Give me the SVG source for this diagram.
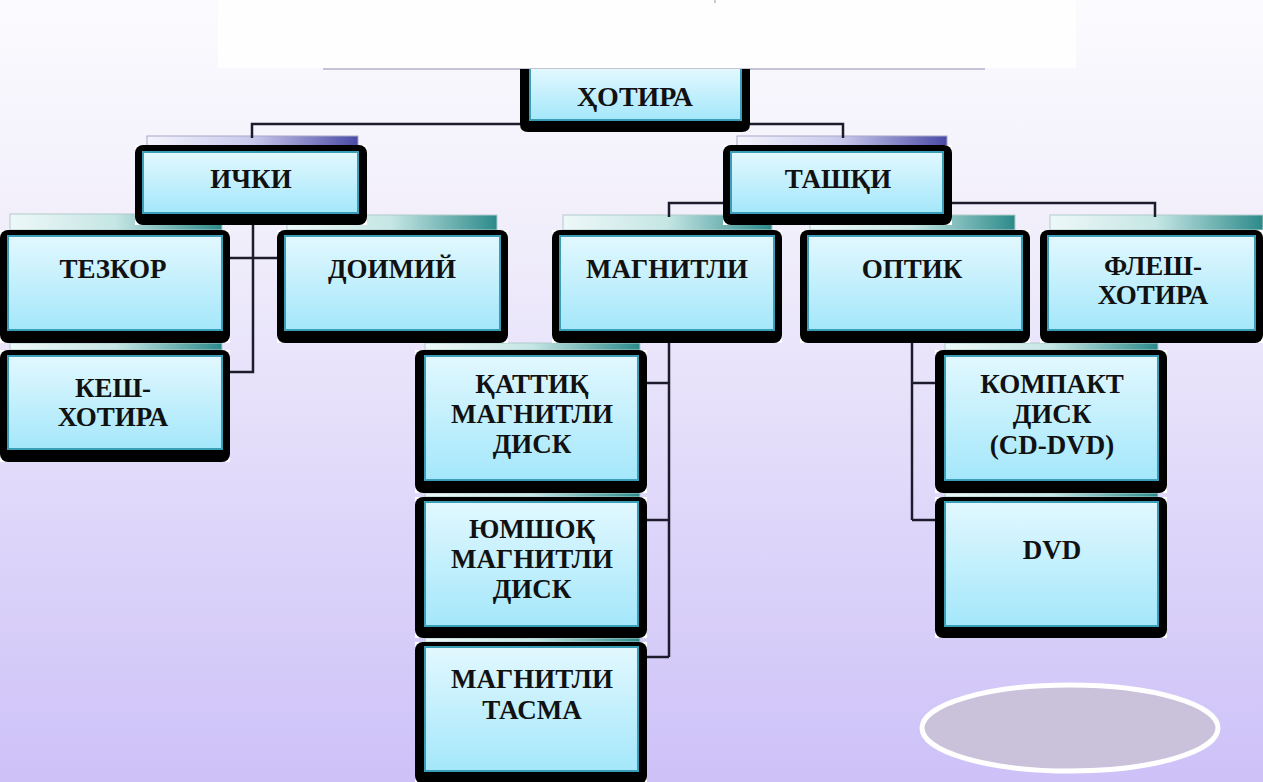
<svg xmlns="http://www.w3.org/2000/svg" width="1263" height="782" viewBox="0 0 1263 782">
<defs>
<linearGradient id="bg" x1="0" y1="0" x2="0" y2="1">
<stop offset="0" stop-color="#fbfbfe"/>
<stop offset="0.3" stop-color="#f1eefb"/>
<stop offset="1" stop-color="#cdc1f8"/>
</linearGradient>
<linearGradient id="inner" x1="0" y1="0" x2="0" y2="1">
<stop offset="0" stop-color="#e2f8fe"/>
<stop offset="1" stop-color="#a4e7fb"/>
</linearGradient>
<linearGradient id="purp" x1="0" y1="0" x2="1" y2="0">
<stop offset="0" stop-color="#f4f4fc"/>
<stop offset="0.5" stop-color="#c8c8ec"/>
<stop offset="1" stop-color="#4a4aa6"/>
</linearGradient>
<linearGradient id="teal" x1="0" y1="0" x2="1" y2="0">
<stop offset="0" stop-color="#eef8f8"/>
<stop offset="0.5" stop-color="#c4e6e4"/>
<stop offset="1" stop-color="#2c8a8a"/>
</linearGradient>
<style>
.conn{fill:none;stroke:#1c1c2c;stroke-width:2.5}
.wb{fill:#ffffff}
.blk{fill:#000000}
.in{fill:url(#inner);stroke:#3a9fb6;stroke-width:2}
.t{font-family:"Liberation Serif","Times New Roman",serif;font-weight:bold;font-size:27px;fill:#111111;text-anchor:middle}
.bp{fill:url(#purp);stroke:#a8a8c8;stroke-width:1}
.bt{fill:url(#teal);stroke:#b0cccc;stroke-width:1}
</style>
</defs>
<rect x="0" y="0" width="1263" height="782" fill="url(#bg)"/>
<rect x="218" y="0" width="858" height="68" fill="#fefefe"/>
<line x1="323" y1="69" x2="985" y2="69" stroke="#c4c4d4" stroke-width="2"/>
<line x1="715" y1="0" x2="715" y2="3" stroke="#999" stroke-width="1"/>

<g id="bevels">
<rect class="bp" x="147" y="136" width="211" height="10"/>
<rect class="bp" x="737" y="136" width="210" height="10"/>
<rect class="bt" x="10" y="214" width="212" height="16"/>
<rect class="bt" x="287" y="215" width="210" height="15"/>
<rect class="bt" x="563" y="215" width="209" height="15"/>
<rect class="bt" x="810" y="215" width="205" height="15"/>
<rect class="bt" x="1050" y="215" width="213" height="15"/>
<rect class="bt" x="10" y="343" width="212" height="7"/>
<rect class="bt" x="425" y="343" width="215" height="7"/>
<rect class="bt" x="945" y="343" width="213" height="7"/>
<rect class="bt" x="425" y="493" width="215" height="4"/>
<rect class="bt" x="425" y="638" width="215" height="4"/>
<rect class="bt" x="945" y="493" width="213" height="4"/>
</g>

<g id="connectors">
<polyline class="conn" points="252,138 252,124 843,124 843,138"/>
<polyline class="conn" points="253,225 253,372 230,372"/>
<line class="conn" x1="230" y1="258" x2="277" y2="258"/>
<polyline class="conn" points="669,217 669,203 1155,203 1155,217"/>
<line class="conn" x1="669" y1="343" x2="669" y2="657"/>
<line class="conn" x1="647" y1="383" x2="669" y2="383"/>
<line class="conn" x1="647" y1="520" x2="669" y2="520"/>
<line class="conn" x1="647" y1="657" x2="669" y2="657"/>
<line class="conn" x1="912" y1="343" x2="912" y2="520"/>
<line class="conn" x1="912" y1="383" x2="935" y2="383"/>
<line class="conn" x1="912" y1="520" x2="935" y2="520"/>
</g>

<g id="n-hotira">
<path class="blk" d="M520,69 H750 V124 Q750,132 742,132 H528 Q520,132 520,124 Z"/>
<path class="in" d="M530,69 V120 H741 V69" />
<text class="t" x="635" y="106" style="font-size:28px">ҲОТИРА</text>
</g>

<g id="n-ichki">
<rect class="wb" x="135" y="145" width="232" height="80"/>
<rect class="blk" x="135" y="145" width="232" height="80" rx="8"/>
<rect class="in" x="143" y="152" width="215" height="61"/>
<text class="t" x="251" y="188">ИЧКИ</text>
</g>

<g id="n-tashqi">
<rect class="wb" x="723" y="145" width="229" height="80"/>
<rect class="blk" x="723" y="145" width="229" height="80" rx="8"/>
<rect class="in" x="731" y="152" width="212" height="61"/>
<text class="t" x="838" y="188">ТАШҚИ</text>
</g>

<g id="n-tezkor">
<rect class="wb" x="0" y="230" width="230" height="113"/>
<rect class="blk" x="0" y="230" width="230" height="113" rx="8"/>
<rect class="in" x="8" y="236" width="214" height="94"/>
<text class="t" x="113" y="278">ТЕЗКОР</text>
</g>

<g id="n-doimiy">
<rect class="wb" x="277" y="230" width="231" height="113"/>
<rect class="blk" x="277" y="230" width="231" height="113" rx="8"/>
<rect class="in" x="285" y="236" width="215" height="94"/>
<text class="t" x="392" y="278">ДОИМИЙ</text>
</g>

<g id="n-magnitli">
<rect class="wb" x="552" y="230" width="230" height="113"/>
<rect class="blk" x="552" y="230" width="230" height="113" rx="8"/>
<rect class="in" x="560" y="236" width="214" height="94"/>
<text class="t" x="667" y="278">МАГНИТЛИ</text>
</g>

<g id="n-optik">
<rect class="wb" x="800" y="230" width="230" height="113"/>
<rect class="blk" x="800" y="230" width="230" height="113" rx="8"/>
<rect class="in" x="808" y="236" width="214" height="94"/>
<text class="t" x="912" y="278">ОПТИК</text>
</g>

<g id="n-flesh">
<rect class="wb" x="1040" y="230" width="223" height="113"/>
<rect class="blk" x="1040" y="230" width="223" height="113" rx="8"/>
<rect class="in" x="1048" y="236" width="207" height="94"/>
<text class="t" x="1153" y="275">ФЛЕШ-</text>
<text class="t" x="1153" y="304">ХОТИРА</text>
</g>

<g id="n-kesh">
<rect class="wb" x="0" y="350" width="230" height="112"/>
<rect class="blk" x="0" y="350" width="230" height="112" rx="8"/>
<rect class="in" x="8" y="356" width="214" height="93"/>
<text class="t" x="113" y="397">КЕШ-</text>
<text class="t" x="113" y="426">ХОТИРА</text>
</g>

<g id="n-qattiq">
<rect class="wb" x="415" y="350" width="232" height="143"/>
<rect class="blk" x="415" y="350" width="232" height="143" rx="8"/>
<rect class="in" x="425" y="356" width="213" height="124"/>
<text class="t" x="532" y="393">ҚАТТИҚ</text>
<text class="t" x="532" y="423">МАГНИТЛИ</text>
<text class="t" x="532" y="453">ДИСК</text>
</g>

<g id="n-yumshoq">
<rect class="wb" x="415" y="497" width="232" height="141"/>
<rect class="blk" x="415" y="497" width="232" height="141" rx="8"/>
<rect class="in" x="425" y="502" width="213" height="124"/>
<text class="t" x="532" y="538">ЮМШОҚ</text>
<text class="t" x="532" y="568">МАГНИТЛИ</text>
<text class="t" x="532" y="598">ДИСК</text>
</g>

<g id="n-tasma">
<rect class="wb" x="415" y="642" width="232" height="142"/>
<rect class="blk" x="415" y="642" width="232" height="142" rx="8"/>
<rect class="in" x="425" y="647" width="213" height="124"/>
<text class="t" x="532" y="688">МАГНИТЛИ</text>
<text class="t" x="532" y="719">ТАСМА</text>
</g>

<g id="n-kompakt">
<rect class="wb" x="935" y="350" width="232" height="143"/>
<rect class="blk" x="935" y="350" width="232" height="143" rx="8"/>
<rect class="in" x="945" y="356" width="213" height="124"/>
<text class="t" x="1052" y="393">КОМПАКТ</text>
<text class="t" x="1052" y="423">ДИСК</text>
<text class="t" x="1052" y="454">(CD-DVD)</text>
</g>

<g id="n-dvd">
<rect class="wb" x="935" y="497" width="232" height="141"/>
<rect class="blk" x="935" y="497" width="232" height="141" rx="8"/>
<rect class="in" x="945" y="502" width="213" height="124"/>
<text class="t" x="1052" y="559">DVD</text>
</g>

<ellipse cx="1070" cy="728" rx="148" ry="43" fill="#cac2da" stroke="#ffffff" stroke-width="5"/>
</svg>
